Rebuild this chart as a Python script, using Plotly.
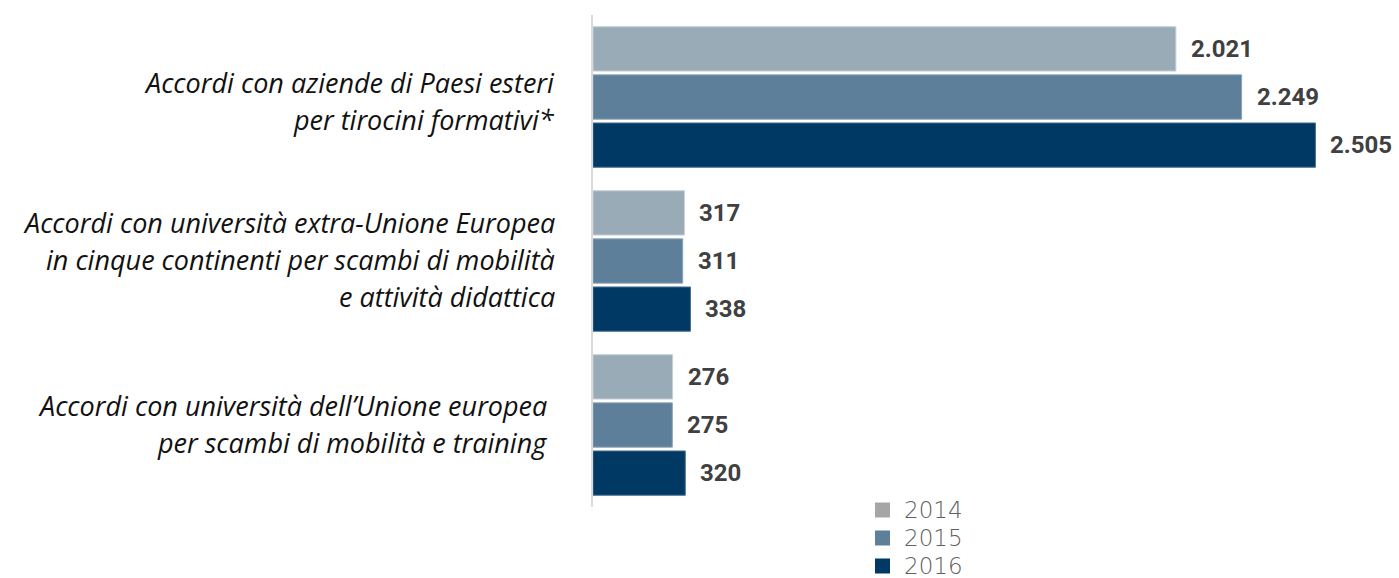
import plotly.graph_objects as go

# Data
categories = [
    "Accordi con aziende di Paesi esteri per tirocini formativi*",
    "Accordi con università extra-Unione Europea in cinque continenti per scambi di mobilità e attività didattica",
    "Accordi con università dell’Unione europea per scambi di mobilità e training",
]
category_lines = [
    ["Accordi con aziende di Paesi esteri", "per tirocini formativi*"],
    ["Accordi con università extra-Unione Europea",
     "in cinque continenti per scambi di mobilità",
     "e attività didattica"],
    ["Accordi con università dell’Unione europea",
     "per scambi di mobilità e training"],
]
years = ["2014", "2015", "2016"]
values_2014 = [2021, 317, 276]
values_2015 = [2249, 311, 275]
values_2016 = [2505, 338, 320]

series = [values_2014, values_2015, values_2016]
bar_colors = ["#9aabb8", "#5d7f9a", "#003a64"]
edge_colors = ["#c3ced6", "#8aa3b7", "#4a6f90"]
legend_colors = ["#a6a6a6", "#5d7f9a", "#003a64"]

W, H = 1399, 578
M_L, M_R, M_T, M_B = 593, 0, 15, 71
plot_w = W - M_L - M_R
plot_h = H - M_T - M_B
px_per_unit = 0.2884
x_max = plot_w / px_per_unit

fig = go.Figure()
for name, vals, col, edge in zip(years, series, bar_colors, edge_colors):
    fig.add_trace(go.Bar(
        y=categories, x=vals, orientation="h", name=name,
        marker=dict(color=col, line=dict(color=edge, width=1)),
        showlegend=False, hoverinfo="skip",
    ))

bargap, bargroupgap = 0.12, 0.08
cat_px = plot_h / len(categories)
slot_px = cat_px * (1 - bargap) / len(years)

def fmt(v):
    return f"{v:,}".replace(",", ".")

def paper_x(px):
    return (px - M_L) / plot_w

def paper_y(py):
    return (H - M_B - py) / plot_h

annotations = []
shapes = []

# Value labels to the right of each bar
for i, vals in enumerate(series):
    shift = (1 - i) * slot_px
    for cat, v in zip(categories, vals):
        annotations.append(dict(
            x=v, y=cat, xref="x", yref="y", text=fmt(v),
            xanchor="left", yanchor="middle", xshift=13, yshift=shift,
            showarrow=False,
            font=dict(family="Roboto", size=24, color="#404040", weight="bold"),
        ))

# Category labels, one annotation per line, right-aligned
line_step = 37
label_nudge_y = [4, -2, -1]
label_gap_x = [36, 36, 44]
for cat, lines, ny, gx in zip(categories, category_lines, label_nudge_y, label_gap_x):
    n = len(lines)
    for j, line in enumerate(lines):
        off = (j - (n - 1) / 2) * line_step + ny
        annotations.append(dict(
            x=0, y=cat, xref="x", yref="y", text=line,
            xanchor="right", yanchor="middle", xshift=-gx, yshift=-off,
            showarrow=False,
            font=dict(family="Open Sans", size=27, color="#111111", style="italic"),
        ))

# Legend: square swatches with year labels, stacked below the bars
legend_x, legend_y0, legend_step, swatch = 882.5, 510, 28, 15
for k, (name, col) in enumerate(zip(years, legend_colors)):
    cy = legend_y0 + k * legend_step
    shapes.append(dict(
        type="rect", xref="paper", yref="paper",
        xsizemode="pixel", ysizemode="pixel",
        xanchor=paper_x(legend_x), yanchor=paper_y(cy),
        x0=-swatch / 2, x1=swatch / 2, y0=-swatch / 2, y1=swatch / 2,
        fillcolor=col, line=dict(width=0),
    ))
    annotations.append(dict(
        x=paper_x(legend_x + swatch / 2 + 12), y=paper_y(cy),
        xref="paper", yref="paper", text=name,
        xanchor="left", yanchor="middle", showarrow=False,
        font=dict(family="DejaVu Sans", size=23, color="#606060", weight=300),
    ))

fig.update_layout(
    width=W, height=H,
    margin=dict(l=M_L, r=M_R, t=M_T, b=M_B, autoexpand=False),
    paper_bgcolor="white", plot_bgcolor="white",
    barmode="group", bargap=bargap, bargroupgap=bargroupgap,
    showlegend=False,
    xaxis=dict(range=[0, x_max], visible=False, fixedrange=True),
    yaxis=dict(
        categoryorder="array", categoryarray=categories,
        range=[len(categories) - 0.5, -0.5],
        showticklabels=False, ticks="", showgrid=False, zeroline=False,
        showline=True, linecolor="#d9d9d9", linewidth=2,
    ),
    annotations=annotations,
    shapes=shapes,
)

fig.write_html("out.html")
